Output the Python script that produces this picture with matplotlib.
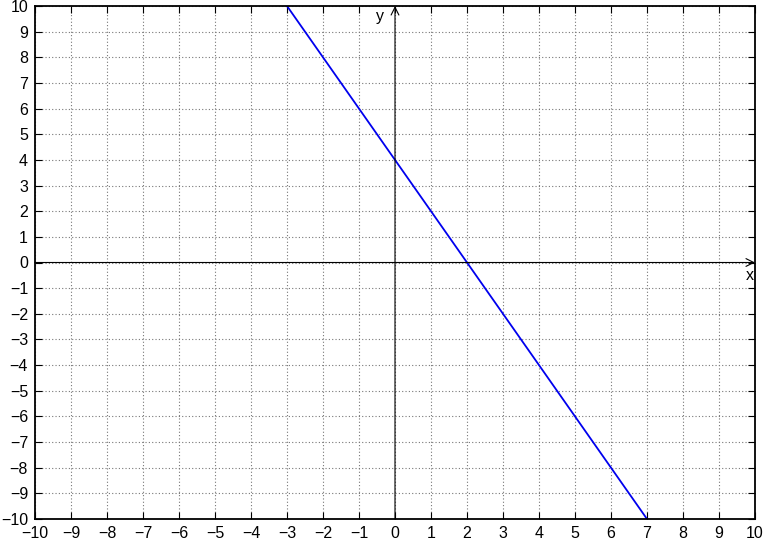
import matplotlib.pyplot as plt
import numpy as np

plt.rcParams['font.family'] = ['Liberation Sans', 'DejaVu Sans']

# line y = -2x + 4, drawn between its two end points inside the box
line_x = [-3, 7]
line_y = [10, -10]
ticks = list(range(-10, 11))

fig = plt.figure(figsize=(7.66, 5.42), dpi=100)
ax = fig.add_axes([35 / 766, 23 / 542, 720 / 766, 513 / 542])
ax.set_xlim(-10, 10)
ax.set_ylim(-10, 10)

ax.set_xticks(ticks)
ax.set_yticks(ticks)
ax.set_xticklabels([str(t).replace('-', '\u2212') for t in ticks])
ax.set_yticklabels([str(t).replace('-', '\u2212') for t in ticks])
ax.tick_params(direction='in', length=5, width=0.8, labelsize=11.5,
               top=True, right=True, pad=5)

ax.grid(True, color='#777777', linestyle=(0, (1, 2)), linewidth=0.8)
ax.set_axisbelow(True)
for s in ax.spines.values():
    s.set_linewidth(1.3)

# zero axes with open arrows
ax.annotate('', xy=(10, 0), xytext=(-10, 0),
            arrowprops=dict(arrowstyle='->', color='black', lw=0.8,
                            shrinkA=0, shrinkB=0, mutation_scale=14))
ax.annotate('', xy=(0, 10), xytext=(0, -10),
            arrowprops=dict(arrowstyle='->', color='black', lw=0.8,
                            shrinkA=0, shrinkB=0, mutation_scale=14))
ax.text(9.85, -0.22, 'x', fontsize=11.5, ha='center', va='top')
ax.text(-0.42, 9.6, 'y', fontsize=11.5, ha='center', va='center')

ax.plot(line_x, line_y, color='#0000ee', linewidth=1.3)

plt.savefig('out.png', dpi=100)
